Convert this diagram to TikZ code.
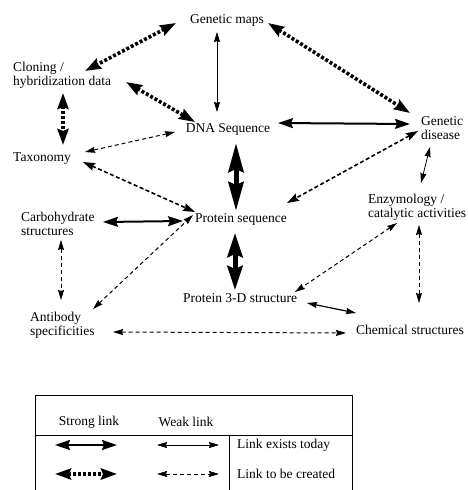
\documentclass[tikz,border=0pt]{standalone}
\usepackage{fontspec}
\setmainfont{Liberation Serif}
\usetikzlibrary{arrows.meta}

\begin{document}
\begin{tikzpicture}[x=1pt,y=-1pt,
		every node/.style={inner sep=2pt, font=\fontsize{13.5}{13.5}\selectfont},
		lbox/.style={align=left, anchor=west},
		strong/.style={line width=2pt, >={Stealth[length=15pt,width=10pt,inset=2pt]}, <->},
		strongdash/.style={line width=3.6pt, dash pattern=on 3pt off 2pt, >={Stealth[length=16pt,width=11pt,inset=2pt]}, <->},
		weak/.style={line width=0.8pt, >={Stealth[length=10pt,width=6pt,inset=1pt]}, <->},
		weakdash/.style={line width=1pt, dash pattern=on 4pt off 3pt, >={Stealth[length=10pt,width=6pt,inset=1pt]}, <->},
		meddash/.style={line width=1.6pt, dash pattern=on 4pt off 2.5pt, >={Stealth[length=12pt,width=8pt,inset=1.5pt]}, <->},
		huge/.style={line width=5pt, >={Stealth[length=#1,width=15pt,inset=3pt]}, <->}]
		\useasboundingbox (0,0) rectangle (467,490);
		
		\node (gm) at (227,20) {Genetic maps};
		\node[lbox] (clon) at (11,75.5) {Cloning /\\hybridization data};
		\node (dna) at (228,129) {DNA Sequence};
		\node[lbox] (gd) at (419,128) {Genetic\\disease};
		\node[lbox] (tax) at (11,159) {Taxonomy};
		\node[lbox] (carb) at (19,224) {Carbohydrate\\structures};
		\node (ps) at (241,219) {Protein sequence};
		\node[lbox] (enz) at (366,207.5) {Enzymology /\\catalytic activities};
		\node (p3d) at (240,298) {Protein 3-D structure};
		\node[lbox] (ab) at (28,325) {Antibody\\specificities};
		\node (chem) at (410,330) {Chemical structures};
		
		\draw[strongdash] ([shift={(-51,3)}]gm.center) -- ([shift={(74,-4.5)}]clon.west);
		\draw[weak] ([shift={(-10,12)}]gm.center) -- ([shift={(-11,-17)}]dna.center);
		\draw[strongdash] ([shift={(115,6.5)}]clon.west) -- ([shift={(-33,-7)}]dna.center);
		\draw[strongdash] ([shift={(52,17.5)}]clon.west) -- ([shift={(52,-14)}]tax.west);
		\draw[weakdash] ([shift={(-53,3)}]dna.center) -- ([shift={(74,-7)}]tax.west);
		\draw[meddash] ([shift={(72,3)}]tax.west) -- ([shift={(-46,-7)}]ps.center);
		\draw[strongdash] ([shift={(41,3)}]gm.center) -- ([shift={(-9,-15)}]gd.west);
		\draw[strong] ([shift={(50,-6)}]dna.center) -- ([shift={(-9,-4)}]gd.west);
		\draw[meddash] ([shift={(-1,3)}]gd.west) -- ([shift={(46,-16)}]ps.center);
		\draw[weak] ([shift={(11,19)}]gd.west) -- ([shift={(55,-24.5)}]enz.west);
		\draw[huge=29pt] ([shift={(8,14)}]dna.center) -- ([shift={(-5,-8)}]ps.center);
		\draw[strong] ([shift={(84,-2)}]carb.west) -- ([shift={(-58,2)}]ps.center);
		\draw[weakdash] ([shift={(65,-16)}]ab.west) -- ([shift={(-48,-4)}]ps.center);
		\draw[weakdash] ([shift={(42,16)}]carb.west) -- ([shift={(33,-25)}]ab.west);
		\draw[huge=24pt] ([shift={(-6,14)}]ps.center) -- ([shift={(-5,-8)}]p3d.center);
		\draw[weakdash] ([shift={(31,15.5)}]enz.west) -- ([shift={(55,-6)}]p3d.center);
		\draw[weakdash] ([shift={(53,17.5)}]enz.west) -- ([shift={(9,-27)}]chem.center);
		\draw[weak, line width=1.2pt] ([shift={(67,5)}]p3d.center) -- ([shift={(-54,-17)}]chem.center);
		\draw[weakdash] ([shift={(85,7)}]ab.west) -- ([shift={(-64,3)}]chem.center);
		
		% legend
		\draw[line width=0.8pt] (35,490) -- (35,395) -- (352,395) -- (352,490);
		\draw[line width=0.8pt] (35,435) -- (352,435);
		\draw[line width=0.8pt] (229,435) -- (229,490);
		\node (strongl) at (89,422) {Strong link};
		\node (weakl) at (186,422) {Weak link};
		\node[lbox] (today) at (235,445) {Link exists today};
		\node[lbox] (created) at (235,474) {Link to be created};
		\coordinate (s1a) at (55,445);
		\coordinate (s1b) at (117,445);
		\coordinate (w1a) at (157,445);
		\coordinate (w1b) at (219,445);
		\coordinate (s2a) at (55,474);
		\coordinate (s2b) at (117,474);
		\coordinate (w2a) at (157,474);
		\coordinate (w2b) at (219,474);
		\draw[strong] (s1a) -- (s1b);
		\draw[weak] (w1a) -- (w1b);
		\draw[strongdash] (s2a) -- (s2b);
		\draw[weakdash] (w2a) -- (w2b);
		
		\end{tikzpicture}
\end{document}
